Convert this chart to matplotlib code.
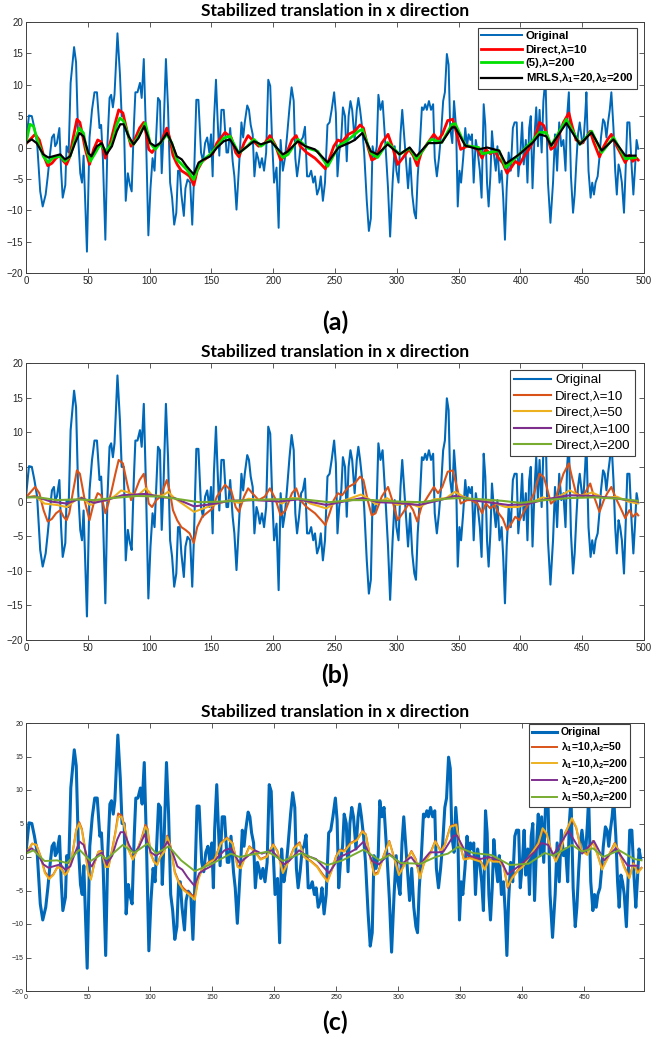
import matplotlib
matplotlib.use('Agg')
import matplotlib.pyplot as plt

# raw translation signal (frame index, pixels)
orig_x = [0, 2.4, 4.7, 6.8, 9.0, 11.5, 13.5, 15.9, 17.6, 19.3,
          21.0, 22.6, 23.6, 25.0, 27.0, 28.4, 29.7, 31.8, 32.8, 34.5,
          36.1, 38.9, 40.5, 42.2, 43.9, 45.3, 46.6, 49.3, 51.4, 53.4,
          55.4, 57.4, 59.5, 60.8, 62.2, 64.2, 65.9, 67.6, 68.9, 70.3,
          71.6, 74.0, 76.0, 77.4, 79.1, 80.7, 82.4, 84.1, 85.5, 87.2,
          88.5, 90.2, 92.2, 93.6, 95.3, 97.0, 99.0, 100.7, 102.4, 104.0,
          105.4, 106.8, 108.4, 109.8, 111.1, 113.2, 114.9, 116.6, 118.2, 119.9,
          121.6, 123.0, 124.3, 125.7, 127.7, 129.0, 130.7, 132.8, 134.5, 135.8,
          137.8, 139.5, 141.6, 143.2, 144.9, 146.6, 148.3, 149.7, 151.0, 152.0,
          153.7, 155.0, 156.4, 158.1, 160.0, 162.2, 163.5, 165.2, 167.2, 168.6,
          170.3, 171.6, 173.0, 174.3, 175.7, 177.0, 179.0, 180.4, 181.8, 183.4,
          184.8, 186.5, 187.8, 189.2, 190.9, 192.6, 194.3, 196.0, 197.6, 199.0,
          200.7, 202.7, 204.4, 206.0, 207.8, 209.5, 211.1, 213.2, 214.9, 216.6,
          217.9, 219.3, 220.9, 222.6, 224.0, 225.7, 227.4, 229.1, 230.7, 232.4,
          233.8, 235.5, 237.2, 238.5, 240.2, 241.9, 243.9, 245.6, 247.3, 249.3,
          250.7, 252.0, 253.4, 255.1, 256.4, 258.1, 259.5, 261.0, 262.5, 263.9,
          265.9, 267.6, 268.9, 270.3, 272.0, 273.6, 275.7, 277.4, 279.0, 280.4,
          282.1, 283.8, 285.1, 286.8, 288.5, 289.9, 291.2, 292.9, 294.6, 296.6,
          298.3, 299.7, 301.4, 303.0, 304.4, 305.7, 307.4, 309.1, 310.8, 312.5,
          314.2, 315.5, 316.9, 318.6, 320.3, 321.6, 323.0, 324.3, 326.0, 327.7,
          329.4, 330.7, 332.4, 334.1, 335.8, 337.5, 338.9, 340.5, 341.9, 343.2,
          344.9, 346.3, 348.0, 349.3, 350.7, 352.0, 353.7, 355.4, 356.8, 358.1,
          359.5, 360.8, 362.2, 363.9, 365.5, 367.2, 368.6, 370.3, 371.6, 373.0,
          374.3, 375.7, 377.0, 378.4, 380.1, 381.4, 383.1, 384.8, 386.1, 387.5,
          388.9, 390.5, 392.2, 393.9, 395.3, 397.0, 398.3, 400.0, 401.4, 402.7,
          404.4, 405.7, 407.1, 408.4, 409.8, 411.5, 412.8, 414.2, 415.5, 417.2,
          418.6, 420.3, 422.3, 424.3, 426.4, 428.0, 429.7, 431.4, 433.1, 434.8,
          436.5, 437.8, 439.2, 440.9, 442.6, 443.9, 445.3, 446.6, 448.0, 449.7,
          451.0, 452.4, 453.4, 455.1, 456.8, 458.1, 459.5, 460.8, 462.5, 463.9,
          465.2, 466.9, 468.2, 469.6, 470.9, 472.3, 473.6, 475.3, 476.7, 478.0,
          479.4, 480.7, 482.1, 483.8, 485.1, 486.5, 488.2, 489.9, 491.4, 492.6,
          494.0, 495.3]
orig_y = [0.7, 5.1, 5.0, 3.1, 0.7, -7.0, -9.4, -7.5, -4.6, -1.3,
          1.6, 2.1, 0.2, 0.7, 3.1, -3.7, -8.0, -6.0, 0.2, -0.8,
          10.3, 16.0, 13.6, 1.6, -4.1, -5.6, -1.3, -16.6, 1.6, 6.0,
          8.8, 8.8, 3.1, 3.6, -1.7, -14.7, 0.7, 7.9, 8.4, 6.4,
          8.4, 18.2, 11.7, 5.0, 5.0, -8.5, -4.1, -6.0, -7.0, 3.1,
          8.8, 8.8, 10.3, 7.9, 14.1, 2.6, -14.0, -6.5, -1.7, -3.7,
          2.1, 7.9, 7.4, -4.1, 1.6, 14.1, 6.4, -5.6, -8.0, -12.3,
          -10.4, -3.7, -3.7, -7.5, -10.9, -6.5, -5.1, -5.6, -12.3, -5.6,
          7.6, 7.6, -0.8, -2.2, 0.7, 1.6, -0.8, 2.1, -4.6, 4.0,
          10.8, 4.5, -1.3, 6.0, 6.0, -0.8, -0.8, 3.1, -2.2, -4.6,
          -9.9, -5.6, -0.8, 4.0, 1.6, 4.0, 6.7, 6.0, 3.6, 2.1,
          -4.6, -0.8, -1.7, -3.2, -1.7, -3.7, -0.8, 10.8, 9.8, 1.6,
          -5.6, -3.2, -12.8, 1.2, -3.7, -1.7, 1.6, 6.4, 9.6, 7.4,
          -1.7, -4.6, -2.2, 1.2, 1.6, 3.3, -4.6, -4.6, -3.7, -5.6,
          -4.6, -7.5, -6.5, -4.6, -8.5, -5.6, 3.6, 4.0, 6.0, 8.8,
          5.5, -4.6, -0.8, 1.6, 6.4, 5.0, -2.2, 5.0, 7.4, 6.0,
          1.2, 6.0, 7.9, 6.0, 3.1, -0.8, -8.5, -13.3, -11.3, 0.2,
          -1.7, 0.2, 8.4, 6.0, 7.4, 3.1, -0.8, -6.5, -14.2, -5.6,
          0.2, -3.7, -5.6, 2.1, 6.0, 2.6, -1.7, -6.5, -1.7, -7.5,
          -10.4, -11.3, -4.6, 0.2, 6.4, 6.0, 6.9, 6.0, 7.4, 6.0,
          6.9, -1.7, -4.6, -1.7, 2.1, 7.4, 8.8, 14.9, 13.2, 3.1,
          0.7, 7.4, 3.1, -9.4, -3.7, -5.6, -1.7, 3.1, 0.2, 2.1,
          1.2, 2.1, -5.6, 1.2, -0.8, -3.7, -8.0, 6.9, 3.6, -5.6,
          -9.4, -4.6, 2.6, -0.8, -3.7, 0.2, -5.6, -3.7, -8.0, -14.7,
          -6.5, -0.8, -3.7, 3.1, 4.0, 4.0, -4.6, -0.8, 4.0, -2.7,
          1.2, -5.6, 3.1, 5.0, -6.5, 2.1, 6.4, 0.2, 6.0, -0.8,
          7.4, 11.2, -5.6, -12.0, -5.6, 2.1, -3.7, 4.0, 0.2, 1.2,
          -3.7, 5.0, 8.8, -4.6, -10.4, -7.5, -2.2, 2.1, 4.0, 1.2,
          0.7, 5.0, 8.8, -3.7, -8.0, -5.6, -7.5, -5.6, -4.6, -1.7,
          1.6, 4.5, 4.0, 1.6, 4.0, 6.0, 8.8, 3.1, -3.7, -7.5,
          -2.7, -3.7, -5.6, -10.4, -3.7, 4.0, 4.0, -2.7, -7.5, -3.7,
          1.2, -0.2]

# direct smoothing, lambda = 10 / 50 / 100 / 200
direct_10 = [(0, 0.6), (7.4, 2.1), (10.8, 1.2), (14.2, -1.25), (17.6, -2.9), (21, -2.5),
             (24.3, -1.7), (27.7, -1.25), (30.4, -2.2), (32.8, -2.7), (35, -1.7), (37.8, 1.2),
             (41.2, 4.5), (43.6, 4.0), (45.6, 2.1), (48, -0.3), (51.4, -2.7), (54.7, -0.3),
             (58, 1.2), (60.8, 0.9), (64.2, -1.7), (66.6, -0.3), (69.3, 1.6), (72.3, 4.0),
             (75, 6.0), (78.4, 5.5), (81.8, 2.6), (85, 0.2), (87.8, 1.2), (91.9, 3.1),
             (95.3, 4.0), (97.3, 2.1), (99.3, -0.3), (102, -0.8), (105.4, 0.2), (108.8, 0.7),
             (113.9, 3.1), (116.2, 1.6), (118.9, -1.25), (122.3, -2.7), (125.7, -3.7), (129, -4.1),
             (132.4, -4.6), (135.8, -6.0), (138.5, -3.7), (142.6, -2.2), (146, -1.7), (151, -1.0),
             (154.4, 0.7), (161, 2.4), (166, 1.6), (169.6, -0.8), (172.3, -1.5), (176.4, 0.7),
             (179.7, 1.9), (183.1, 1.2), (188.2, 0.2), (193.2, 0.7), (197.3, 1.9), (201.7, 0.4),
             (206, -2.0), (210, -1.25), (215.2, 1.2), (218.6, 1.9), (221.9, 0.2), (227, -0.8),
             (233.8, -1.7), (238.9, -2.7), (242.2, -3.4), (245.6, -1.7), (249, 0.2), (252.4, 1.2),
             (255.7, 0.9), (260.8, 2.1), (265.9, 2.6), (270.3, 3.6), (273, 3.1), (276.4, 0.2),
             (279.7, -2.0), (282.8, -1.7), (287.8, 0.7), (292.9, 2.1), (296.3, 0.2), (300.7, -2.7),
             (304.7, -1.7), (309.8, -0.3), (313.2, -1.25), (316.6, -2.9), (319.9, -0.8), (325, 0.7),
             (330, 2.1), (333.4, 1.2), (336.8, 2.1), (341.2, 4.3), (345.3, 4.5), (348.6, 2.1),
             (351.7, -0.3), (356.8, 0.2), (360.1, 0.2), (365.2, -0.3), (369, -1.7), (372, -0.3),
             (375.7, -1.0), (379.1, -0.5), (382.4, -1.7), (385.8, -2.5), (389.2, -4.1), (392.6, -3.2),
             (395.9, -2.2), (399.3, -2.7), (403.4, -1.25), (406.8, -0.3), (411.1, 1.2), (415.5, 4.0),
             (418.9, 3.5), (421.3, 2.1), (424.7, -0.3), (428, 0.2), (431.4, 2.1), (434.8, 4.0),
             (439.2, 5.5), (441.6, 3.6), (445, 1.2), (450, 0.7), (453.4, 1.6), (456.5, 2.6),
             (459, 1.0), (464, -1.5), (467.5, 0.2), (470.3, 1.2), (473.6, 2.1), (477.4, 0.4),
             (480.7, -0.8), (484.8, -2.4), (488.2, -1.25), (490.9, -2.2), (494, -1.7), (495.3, -2.0)]

direct_50 = [(0, 0.6), (7, 0.8), (15, -0.3), (25, -0.5), (33, -0.8), (40, 0.2), (45, 0.6),
             (52, -0.5), (60, 0.2), (65, 0.1), (72, 0.8), (77, 1.6), (83, 1.3), (90, 0.8),
             (97, 1.9), (102, 0.9), (110, 0.8), (115, 1.4), (120, 0.5), (128, -0.5), (136, -1.5),
             (145, -0.9), (155, -0.3), (165, 0.2), (172, -0.2), (180, 0.4), (190, 0.2), (200, 0.3),
             (207, -0.3), (215, 0.5), (222, 0.4), (230, -0.3), (243, -1.0), (250, -0.2), (260, 0.3),
             (271, 1.0), (278, 0.3), (283, -0.4), (292, 0.5), (300, -0.5), (310, -0.2), (318, -0.8),
             (330, 0.3), (340, 0.5), (347, 1.4), (355, 0.6), (365, 0.1), (375, 0.0), (388, -0.8),
             (398, -0.8), (408, -0.2), (418, 0.6), (425, 0.3), (432, 0.8), (440, 1.6), (448, 0.8),
             (458, 1.3), (468, 0.5), (478, 0.7), (487, 0.0), (495, -0.3)]

direct_100 = [(0, 0.6), (8, 0.7), (20, 0.0), (33, -0.3), (45, 0.5), (55, -0.2), (65, 0.2),
              (78, 0.9), (97, 1.1), (110, 0.6), (120, 0.5), (136, -0.7), (150, -0.4), (165, 0.1),
              (185, 0.2), (205, 0.0), (220, 0.3), (243, -0.5), (260, 0.1), (272, 0.5), (285, -0.1),
              (300, -0.2), (318, -0.5), (335, 0.2), (347, 0.8), (365, 0.1), (390, -0.5), (405, -0.4),
              (420, 0.3), (440, 0.9), (458, 0.8), (475, 0.5), (495, 0.0)]

direct_200 = [(0, 0.6), (10, 0.6), (25, 0.2), (40, 0.3), (55, 0.2), (70, 0.5), (90, 0.8),
              (110, 0.7), (125, 0.3), (140, -0.1), (160, 0.0), (180, 0.2), (200, 0.3), (220, 0.4),
              (245, -0.1), (265, 0.2), (280, 0.2), (300, 0.0), (320, -0.1), (340, 0.4), (350, 0.5),
              (370, 0.3), (385, 0.1), (400, -0.2), (420, 0.2), (440, 0.5), (460, 0.6), (480, 0.4),
              (495, 0.1)]

# method of eq. (5), lambda = 200
eq5_200 = [(0, 0.7), (3.2, 3.7), (6, 3.4), (10, 0.7), (14, -1.4), (18, -2.4), (22, -1.6),
           (27.6, -1.4), (31.6, -2.2), (35.7, -1.4), (39.7, 1.3), (43.2, 3.1), (46.5, 2.3),
           (49, -0.3), (52, -2.2), (56, -0.9), (60, 0.5), (65, -0.6), (69.5, 0.7), (73.5, 3.7),
           (76, 4.7), (79, 4.2), (84.3, 1.0), (87, 0.5), (91, 1.8), (96.5, 3.9), (100.5, 0.7),
           (104.6, -0.3), (108.6, 0.7), (114, 2.1), (118, 0.7), (122, -1.9), (126, -2.7),
           (130, -3.5), (135.7, -5.1), (139.7, -3.0), (143.8, -1.9), (149, -1.1), (154.6, 0.2),
           (160, 1.5), (165, 1.8), (172.1, -0.9), (179, 0.2), (184.4, 1.3), (190, 0.2),
           (198.1, 1.3), (207.7, -1.6), (212, -1.1), (220, 1.3), (228, -0.1), (236, -0.6),
           (244.1, -3.0), (252.9, 0.2), (261.1, 1.3), (269, 2.6), (272.1, 2.9), (279, -0.9),
           (284.4, -1.6), (292.6, 0.8), (302.2, -1.1), (310.4, -0.1), (315.9, -1.9), (325.5, 0.8),
           (328.2, 1.3), (336.4, 0.8), (344.6, 3.7), (347.3, 3.8), (355.4, 0.3), (366.3, 0.0),
           (369.1, -1.0), (382.7, -0.5), (388.1, -3.2), (399, -1.1), (410, 1.1), (415.4, 2.4),
           (420.8, 2.4), (424.9, 0.3), (437.2, 4.5), (448.1, 0.5), (457.6, 2.6), (465.8, -0.8),
           (475.3, 1.6), (484.9, -1.8), (493.1, -1.6)]

# MRLS with (lambda1, lambda2)
mrls_20_200 = [(0, 0.7), (4.6, 1.3), (8.6, 0.7), (14, -1.1), (18, -1.6), (22, -1.4),
               (27.6, -1.1), (31.6, -1.9), (35.7, -1.4), (39.7, 0.7), (43.2, 2.3), (46.5, 1.8),
               (50.5, -0.9), (53, -1.4), (57.3, 0.2), (61.4, 0.7), (65, -1.1), (69.5, 0.2),
               (73.5, 2.6), (76.2, 3.7), (79, 3.7), (83, 1.8), (87, 0.5), (91, 1.5), (95.7, 3.4),
               (100.5, 0.7), (104.6, 0.2), (108.6, 0.7), (114, 2.3), (118, 0.7), (122, -1.4),
               (126, -1.9), (130, -3.0), (135.7, -4.3), (139.7, -2.4), (143.8, -1.9), (149, -1.4),
               (154.6, 0.0), (160, 1.0), (165, 1.3), (172.1, -0.9), (184.4, 1.0), (190, 0.5),
               (198.1, 1.0), (207.7, -1.1), (212, -0.6), (220, 1.0), (226, 0.2), (233.7, -0.3),
               (244.1, -2.4), (252.9, 0.0), (261.1, 0.7), (266, 1.2), (272.1, 2.3), (278.9, -0.6),
               (284.4, -1.1), (292.6, 0.5), (302.2, -1.1), (310.4, 0.0), (315.9, -1.4), (325.5, 0.7),
               (332.3, 0.7), (336.4, 0.8), (344.6, 3.2), (347.3, 3.2), (355.4, 0.3), (366.3, -0.3),
               (373, 0.0), (382.7, -0.5), (388.1, -2.6), (399, -1.1), (410, 0.8), (415.4, 2.1),
               (420.8, 1.8), (424.9, 0.3), (437.2, 3.9), (448.1, 0.5), (457.6, 2.4), (465.8, -0.5),
               (475.3, 1.3), (484.9, -1.3), (493.1, -1.3)]

mrls_10_200 = [(0, 0.5), (5, 2.0), (8.4, 1.8), (11.8, 0.0), (15.2, -2.4), (18.6, -3.3), (22, -2.7),
               (25.3, -1.5), (28, -1.7), (31.4, -2.7), (33.8, -2.2), (37, 0.0), (40.5, 4.0),
               (42.9, 5.0), (45, 4.0), (47.3, 1.5), (50, -2.4), (52.3, -3.4), (55, -1.0), (58.4, 0.8),
               (61, 0.8), (64.1, -1.5), (66.5, -1.5), (69.2, 0.8), (72, 3.5), (74.3, 6.0), (77, 6.0),
               (79.3, 4.5), (82.7, 1.0), (86, -0.4), (89.5, 1.0), (92.8, 2.5), (96.2, 4.5), (98, 4.0),
               (100.3, 0.5), (103, -0.7), (105.7, -1.2), (108, -0.1), (111.4, 0.8), (113.8, 3.0),
               (116.5, 1.5), (119.9, -2.4), (123.2, -3.9), (126.6, -4.9), (130, -5.4), (133.4, -5.9),
               (136, -6.4), (138.8, -3.4), (141.8, -1.9), (146.9, -0.9), (152, -0.4), (157, 2.0),
               (162, 2.8), (166.4, 2.0), (170.5, -1.5), (173.2, -1.7), (176.6, 0.0), (180, 1.5),
               (184, 0.8), (189, -0.4), (194, 0.0), (199.2, 1.8), (202.6, 0.8), (207, -2.4),
               (211, -0.9), (216, 1.3), (220.5, 2.0), (224, 0.0), (229.6, -0.7), (234.6, -1.5),
               (238, -2.5), (243, -3.7), (246.4, -2.0), (249.8, 0.0), (253, 1.0), (256.5, 0.8),
               (261.6, 2.0), (266.7, 2.5), (271.1, 3.8), (273.8, 3.3), (277.2, 0.0), (280.6, -2.7),
               (283.6, -2.5), (288, 0.0), (292.7, 2.3), (296.4, 0.0), (300.5, -2.7), (305.6, -1.0),
               (310.6, 0.8), (314, -0.4), (317.4, -3.2), (320.7, -1.0), (325.8, 0.5), (329.8, 2.3),
               (334.2, 0.8), (337.6, 1.8), (342, 4.5), (346.7, 4.8), (349.4, 2.0), (352.8, -0.4),
               (357.8, -0.2), (361.2, -0.4), (366.3, -0.7), (369.7, -1.9), (373, -0.4), (376.4, -0.7),
               (381.5, -0.7), (384.9, -1.5), (388.2, -4.4), (391.6, -3.2), (396.7, -2.0), (400.7, -1.4),
               (404.1, -0.4), (408.5, 0.8), (412.9, 2.0), (416.3, 4.3), (419.6, 3.5), (423, 1.0),
               (427, -0.7), (431, 1.0), (434.4, 3.5), (439.9, 5.8), (443.3, 4.5), (447.3, 1.0),
               (452.4, 0.3), (456.8, 2.3), (460.2, 0.5), (464.2, -1.9), (469.2, 0.0), (474.4, 2.0),
               (477.8, 0.8), (481.8, -1.5), (486.2, -3.2), (489.5, -1.0), (492.9, -2.4), (496, -1.7)]

mrls_10_50 = [(0, 0.5), (5, 2.0), (8.4, 1.8), (11.8, 0.1), (15.2, -2.2), (18.6, -3.1), (22, -2.6),
              (25.3, -1.5), (28, -1.6), (31.4, -2.6), (33.8, -2.1), (37, 0.0), (40.5, 4.1),
              (42.9, 5.2), (45, 4.2), (47.3, 1.6), (50, -2.2), (52.3, -3.2), (55, -1.0), (58.4, 0.8),
              (61, 0.9), (64.1, -1.4), (66.5, -1.4), (69.2, 0.9), (72, 3.7), (74.3, 6.5), (77, 6.2),
              (79.3, 4.7), (82.7, 1.1), (86, -0.3), (89.5, 1.0), (92.8, 2.6), (96.2, 4.8), (98, 4.2),
              (100.3, 0.6), (103, -0.6), (105.7, -1.1), (108, 0.0), (111.4, 0.9), (113.8, 3.2),
              (116.5, 1.6), (119.9, -2.2), (123.2, -3.7), (126.6, -4.6), (130, -5.2), (133.4, -5.6),
              (136, -6.0), (138.8, -3.2), (141.8, -1.8), (146.9, -0.8), (152, -0.3), (157, 2.1),
              (162, 2.9), (166.4, 2.1), (170.5, -1.3), (173.2, -1.5), (176.6, 0.1), (180, 1.6),
              (184, 0.9), (189, -0.3), (194, 0.1), (199.2, 1.9), (202.6, 0.9), (207, -2.2),
              (211, -0.8), (216, 1.4), (220.5, 2.2), (224, 0.1), (229.6, -0.6), (234.6, -1.4),
              (238, -2.3), (243, -3.5), (246.4, -1.9), (249.8, 0.1), (253, 1.1), (256.5, 0.9),
              (261.6, 2.1), (266.7, 2.6), (271.1, 3.9), (273.8, 3.4), (277.2, 0.1), (280.6, -2.5),
              (283.6, -2.3), (288, 0.1), (292.7, 2.4), (296.4, 0.1), (300.5, -2.5), (305.6, -0.9),
              (310.6, 0.9), (314, -0.3), (317.4, -3.0), (320.7, -0.9), (325.8, 0.6), (329.8, 2.4),
              (334.2, 0.9), (337.6, 1.9), (342, 4.6), (346.7, 4.9), (349.4, 2.1), (352.8, -0.3),
              (357.8, -0.1), (361.2, -0.3), (366.3, -0.6), (369.7, -1.7), (373, -0.3), (376.4, -0.6),
              (381.5, -0.6), (384.9, -1.4), (388.2, -4.6), (391.6, -3.0), (396.7, -1.9), (400.7, -1.3),
              (404.1, -0.3), (408.5, 0.9), (412.9, 2.1), (416.3, 4.1), (419.6, 3.4), (423, 1.1),
              (427, -0.6), (431, 1.1), (434.4, 3.6), (439.9, 5.6), (443.3, 4.4), (447.3, 1.1),
              (452.4, 0.4), (456.8, 2.4), (460.2, 0.6), (464.2, -1.7), (469.2, 0.1), (474.4, 2.1),
              (477.8, 0.9), (481.8, -1.3), (486.2, -3.0), (489.5, -0.9), (492.9, -2.2), (496, -1.6)]

mrls_50_200 = [(0, 0.5), (6, 1.0), (15, -0.6), (25, -0.5), (33, -0.9), (43, 1.1), (52, -0.6),
               (60, 0.3), (65, -0.3), (78, 1.8), (87, 0.6), (98, 2.0), (105, 0.5), (115, 1.6),
               (125, -0.5), (136, -2.1), (150, -1.0), (165, 0.5), (172, 0.0), (180, 0.3), (195, 0.8),
               (207, -0.6), (222, 0.6), (243, -1.2), (255, -0.5), (272, 1.1), (285, -0.5), (293, 0.3),
               (302, -0.9), (318, -1.0), (330, 0.0), (340, 0.5), (348, 1.5), (360, 0.6), (375, 0.3),
               (390, -1.2), (405, -1.0), (418, 0.6), (425, 0.2), (440, 1.8), (448, 0.8), (457, 1.3),
               (465, 0.0), (478, 1.0), (490, -0.3), (496, -0.5)]

TITLE = 'Stabilized translation in x direction'
BLUE, ORANGE, YELLOW = '#0068B8', '#D95319', '#EDB120'
PURPLE, GREEN = '#7E2F8E', '#77AC30'
AXC = '#404040'

plt.rcParams['font.family'] = ['Liberation Sans', 'DejaVu Sans']
plt.rcParams['mathtext.fontset'] = 'custom'
plt.rcParams['mathtext.rm'] = 'Liberation Sans'
plt.rcParams['mathtext.bf'] = 'Liberation Sans:bold'


def xy(pts):
    return [p[0] for p in pts], [p[1] for p in pts]


def style(ax, xmax, lsize):
    ax.set_xlim(0, xmax)
    ax.set_ylim(-20, 20)
    ax.set_xticks(range(0, int(xmax) + 1, 50))
    ax.set_yticks(range(-20, 21, 5))
    ax.tick_params(direction='in', top=True, right=True, length=3.5, width=0.6,
                   color=AXC, labelcolor='#262626', labelsize=lsize, pad=2)
    for s in ax.spines.values():
        s.set_color(AXC)
        s.set_linewidth(0.7)
    ax.set_title(TITLE, fontsize=12.5, fontweight='bold', family='Lato', pad=4)


def legend(ax, anchor, size, weight, hl):
    leg = ax.legend(loc='upper right', bbox_to_anchor=anchor,
                    prop={'size': size, 'weight': weight}, frameon=True, fancybox=False,
                    framealpha=1, edgecolor=AXC, borderpad=0.3, labelspacing=0.3,
                    handlelength=hl, handletextpad=0.3, borderaxespad=0)
    leg.get_frame().set_linewidth(0.8)


fig = plt.figure(figsize=(6.51, 10.4), dpi=100)
W = 618 / 651
L = 26 / 651

# (a) comparison of the three smoothers
ax = fig.add_axes([L, 1 - 273 / 1040, W, 251 / 1040])
ax.plot(orig_x, orig_y, color=BLUE, lw=1.4, label='Original')
ax.plot(*xy(direct_10), color='#FF0000', lw=2.0, label='Direct,λ=10')
ax.plot(*xy(eq5_200), color='#00E000', lw=2.0, label='(5),λ=200')
ax.plot(*xy(mrls_20_200), color='black', lw=1.6,
        label=r'MRLS,λ$_\mathbf{1}$=20,λ$_\mathbf{2}$=200')
style(ax, 500, 7)
legend(ax, (0.988, 0.976), 8.2, 'bold', 3.6)

# (b) direct method for several lambda
ax = fig.add_axes([L, 1 - 640 / 1040, W, 277 / 1040])
ax.plot(orig_x, orig_y, color=BLUE, lw=1.5, label='Original')
ax.plot(*xy(direct_10), color=ORANGE, lw=1.5, label='Direct,λ=10')
ax.plot(*xy(direct_50), color=YELLOW, lw=1.5, label='Direct,λ=50')
ax.plot(*xy(direct_100), color=PURPLE, lw=1.5, label='Direct,λ=100')
ax.plot(*xy(direct_200), color=GREEN, lw=1.5, label='Direct,λ=200')
style(ax, 500, 7)
legend(ax, (0.985, 0.975), 9.6, 'normal', 2.8)

# (c) MRLS for several (lambda1, lambda2)
ax = fig.add_axes([L, 1 - 991 / 1040, W, 268 / 1040])
ax.plot(orig_x, orig_y, color=BLUE, lw=2.2, label='Original')
ax.plot(*xy(mrls_10_50), color=ORANGE, lw=1.4, label=r'λ$_\mathbf{1}$=10,λ$_\mathbf{2}$=50')
ax.plot(*xy(mrls_10_200), color=YELLOW, lw=1.4, label=r'λ$_\mathbf{1}$=10,λ$_\mathbf{2}$=200')
ax.plot(*xy(mrls_20_200), color=PURPLE, lw=1.4, label=r'λ$_\mathbf{1}$=20,λ$_\mathbf{2}$=200')
ax.plot(*xy(mrls_50_200), color=GREEN, lw=1.4, label=r'λ$_\mathbf{1}$=50,λ$_\mathbf{2}$=200')
style(ax, 498, 5)
legend(ax, (0.978, 0.996), 7.6, 'bold', 2.4)

for lab, yy in [('(a)', 322), ('(b)', 675), ('(c)', 1022)]:
    fig.text(0.515, 1 - yy / 1040, lab, ha='center', va='center', fontsize=18,
             fontweight='bold', family='Lato')

fig.savefig('out.png', dpi=100)
